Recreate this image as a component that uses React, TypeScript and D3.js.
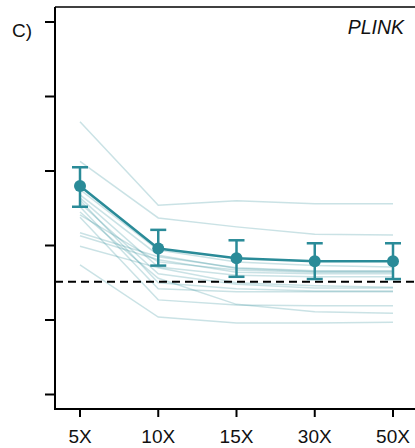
import React from 'react';
import * as d3 from 'd3';

const depths = ['5X', '10X', '15X', '30X', '50X'];
const yTicks = [0, 1, 2, 3, 4, 5];

// mean and error bar limits
const meanVals = [2.8, 1.96, 1.83, 1.79, 1.79];
const upperVals = [3.05, 2.21, 2.07, 2.03, 2.03];
const lowerVals = [2.52, 1.73, 1.58, 1.55, 1.55];

const refValue = 1.514;

// individual runs (light lines)
const runs = [
  [3.66, 2.54, 2.6, 2.56, 2.56],
  [3.13, 2.37, 2.25, 2.15, 2.14],
  [2.75, 1.94, 1.78, 1.73, 1.71],
  [2.68, 1.87, 1.69, 1.65, 1.65],
  [2.61, 1.5, 1.42, 1.39, 1.39],
  [2.52, 1.42, 1.38, 1.38, 1.38],
  [2.41, 1.78, 1.67, 1.64, 1.64],
  [2.38, 1.27, 1.2, 1.19, 1.19],
  [2.17, 1.85, 1.7, 1.66, 1.66],
  [2.13, 1.81, 1.64, 1.62, 1.62],
  [1.99, 1.7, 1.5, 1.46, 1.44],
  [1.74, 1.04, 0.96, 0.96, 0.97],
  [2.57, 1.62, 1.48, 1.43, 1.43],
  [2.45, 1.56, 1.21, 1.11, 1.09],
  [2.64, 1.71, 1.6, 1.58, 1.58],
];

const W = 415;
const H = 448;
const left = 55;
const top = 7;
const bottom = 409;

const teal = '#2a8b98';
const font = '"Liberation Sans", Arial, sans-serif';

export default function App() {
  const x = d3.scalePoint<string>().domain(depths).range([80, 393]);
  const y = d3.scaleLinear().domain([0, 5]).range([394.5, 22]);

  const line = d3
    .line<number>()
    .x((_, i) => x(depths[i]) as number)
    .y((d) => y(d));

  return (
    <svg
      width={W}
      height={H}
      style={{ position: 'absolute', left: 0, top: 0, background: '#fff' }}
    >
      {/* light lines */}
      {runs.map((r, i) => (
        <path
          key={i}
          d={line(r) || ''}
          fill="none"
          stroke={teal}
          strokeOpacity={0.25}
          strokeWidth={1.5}
        />
      ))}

      {/* reference */}
      <line
        x1={left}
        x2={W}
        y1={y(refValue)}
        y2={y(refValue)}
        stroke="#000"
        strokeWidth={2}
        strokeDasharray="8,5"
      />

      {/* mean line */}
      <path d={line(meanVals) || ''} fill="none" stroke={teal} strokeWidth={2.5} />
      {depths.map((d, i) => {
        const cx = x(d) as number;
        return (
          <g key={d} stroke={teal} strokeWidth={2.5}>
            <line x1={cx} x2={cx} y1={y(upperVals[i])} y2={y(lowerVals[i])} />
            <line x1={cx - 8} x2={cx + 8} y1={y(upperVals[i])} y2={y(upperVals[i])} />
            <line x1={cx - 8} x2={cx + 8} y1={y(lowerVals[i])} y2={y(lowerVals[i])} />
            <circle cx={cx} cy={y(meanVals[i])} r={6} fill={teal} stroke="none" />
          </g>
        );
      })}

      {/* frame */}
      <line x1={left} x2={W} y1={top} y2={top} stroke="#000" strokeWidth={1.5} />
      <line x1={left} x2={left} y1={top} y2={bottom + 1} stroke="#000" strokeWidth={2} />
      <line x1={left - 1} x2={W} y1={bottom} y2={bottom} stroke="#000" strokeWidth={2} />

      {yTicks.map((t) => (
        <line key={t} x1={left - 10} x2={left} y1={y(t)} y2={y(t)} stroke="#000" strokeWidth={2} />
      ))}

      {depths.map((d) => (
        <g key={d}>
          <line x1={x(d)} x2={x(d)} y1={bottom} y2={bottom + 8} stroke="#000" strokeWidth={2} />
          <text x={x(d)} y={443} textAnchor="middle" fontFamily={font} fontSize={19} fill="#111">
            {d}
          </text>
        </g>
      ))}

      <text x={12} y={37} fontFamily={font} fontSize={19} fill="#111">
        C)
      </text>
      <text
        x={404}
        y={34}
        textAnchor="end"
        fontFamily={font}
        fontSize={19.5}
        fontStyle="italic"
        fill="#111"
      >
        PLINK
      </text>
    </svg>
  );
}
